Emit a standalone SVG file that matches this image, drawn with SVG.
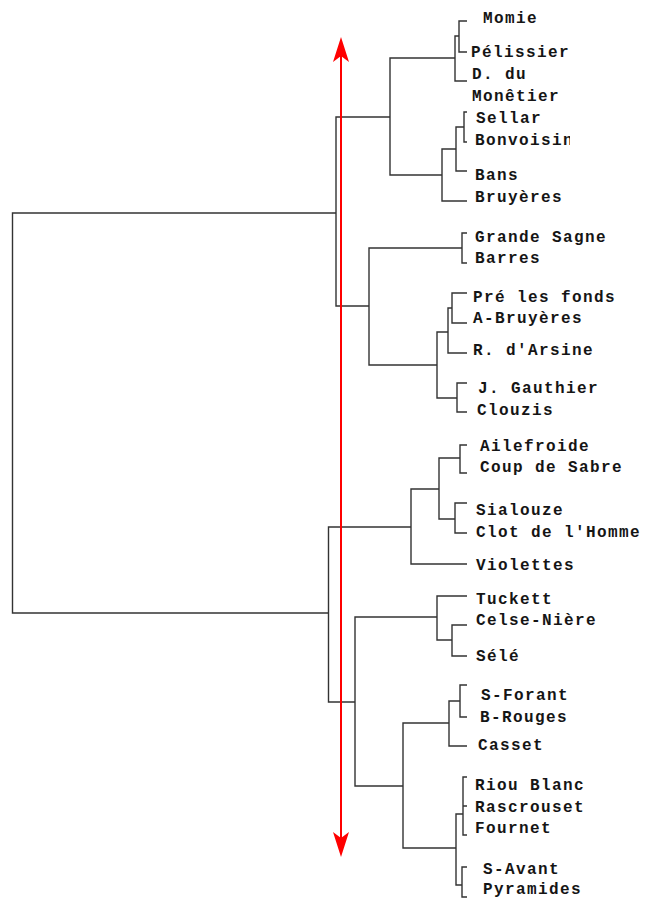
<svg xmlns="http://www.w3.org/2000/svg" width="645" height="900" viewBox="0 0 645 900">
<style>
.c{fill:none;stroke:#333;stroke-width:1.4}
.t{font-family:"Liberation Mono","Courier New",monospace;font-weight:bold;font-size:16px;letter-spacing:1.4px;fill:#151515}
.r{stroke:#f00;stroke-width:2;fill:none}
.ah{fill:#f00}
</style>
<defs><clipPath id="clipB"><rect x="0" y="0" width="570" height="900"/></clipPath></defs>
<rect width="645" height="900" fill="#fff"/>
<g id="connectors" class="c">
<path d="M336,213 H12.5 V613 H328.5"/>
<path d="M390,117 H336 V306 H369"/>
<path d="M455,58 H390 V175 H442"/>
<path d="M459,36 H455 V81 H467"/>
<path d="M467,21 H459 V52 H467"/>
<path d="M456,149 H442 V201 H467"/>
<path d="M464,127 H456 V171 H467"/>
<path d="M467,112 H464 V142 H467"/>
<path d="M462,248 H369 V365 H437"/>
<path d="M467,233 H462 V263 H467"/>
<path d="M448,332 H437 V398 H457"/>
<path d="M452,308 H448 V353 H467"/>
<path d="M467,293 H452 V323 H467"/>
<path d="M467,383 H457 V412 H467"/>
<path d="M411,527 H328.5 V702 H355"/>
<path d="M439,489 H411 V564 H467"/>
<path d="M460,458 H439 V519 H455"/>
<path d="M467,445 H460 V473 H467"/>
<path d="M467,503 H455 V533 H467"/>
<path d="M437,617 H355 V786 H403"/>
<path d="M467,596 H437 V640 H452"/>
<path d="M467,625 H452 V656 H467"/>
<path d="M449,723 H403 V848 H456"/>
<path d="M460,701 H449 V746 H467"/>
<path d="M467,685 H460 V717 H467"/>
<path d="M463,814 H456 V885 H462"/>
<path d="M467,777 H463 V835 H467 M463,806 H467"/>
<path d="M467,867 H462 V897 H467"/>
</g>
<g id="axis">
<line class="r" x1="341" y1="50" x2="341" y2="845"/>
<path class="ah" d="M341,37 L349,62 L341,56 L333,62 Z"/>
<path class="ah" d="M341,857 L349,832 L341,838 L333,832 Z"/>
</g>
<g id="n-momie"><text class="t" x="483" y="23">Momie</text></g>
<g id="n-pelissier"><text class="t" x="471" y="57">Pélissier</text></g>
<g id="n-monetier"><text class="t" x="472" y="79">D. du</text><text class="t" x="472" y="101">Monêtier</text></g>
<g id="n-sellar"><text class="t" x="476" y="123">Sellar</text></g>
<g id="n-bonvoisin"><text class="t" x="475" y="145" clip-path="url(#clipB)">Bonvoisin</text></g>
<g id="n-bans"><text class="t" x="475" y="180">Bans</text></g>
<g id="n-bruyeres"><text class="t" x="475" y="202">Bruyères</text></g>
<g id="n-grande-sagne"><text class="t" x="475" y="242">Grande Sagne</text></g>
<g id="n-barres"><text class="t" x="475" y="263">Barres</text></g>
<g id="n-pre-les-fonds"><text class="t" x="473" y="302">Pré les fonds</text></g>
<g id="n-a-bruyeres"><text class="t" x="473" y="323">A-Bruyères</text></g>
<g id="n-arsine"><text class="t" x="473" y="355">R. d'Arsine</text></g>
<g id="n-gauthier"><text class="t" x="478" y="393">J. Gauthier</text></g>
<g id="n-clouzis"><text class="t" x="477" y="415">Clouzis</text></g>
<g id="n-ailefroide"><text class="t" x="480" y="451">Ailefroide</text></g>
<g id="n-coup-de-sabre"><text class="t" x="480" y="472">Coup de Sabre</text></g>
<g id="n-sialouze"><text class="t" x="476" y="515">Sialouze</text></g>
<g id="n-clot"><text class="t" x="476" y="537">Clot de l'Homme</text></g>
<g id="n-violettes"><text class="t" x="476" y="570">Violettes</text></g>
<g id="n-tuckett"><text class="t" x="476" y="604">Tuckett</text></g>
<g id="n-celse-niere"><text class="t" x="476" y="625">Celse-Nière</text></g>
<g id="n-sele"><text class="t" x="476" y="661">Sélé</text></g>
<g id="n-s-forant"><text class="t" x="481" y="700">S-Forant</text></g>
<g id="n-b-rouges"><text class="t" x="480" y="722">B-Rouges</text></g>
<g id="n-casset"><text class="t" x="478" y="750">Casset</text></g>
<g id="n-riou-blanc"><text class="t" x="475" y="790">Riou Blanc</text></g>
<g id="n-rascrouset"><text class="t" x="475" y="812">Rascrouset</text></g>
<g id="n-fournet"><text class="t" x="475" y="833">Fournet</text></g>
<g id="n-s-avant"><text class="t" x="483" y="874">S-Avant</text></g>
<g id="n-pyramides"><text class="t" x="483" y="894">Pyramides</text></g>
</svg>
